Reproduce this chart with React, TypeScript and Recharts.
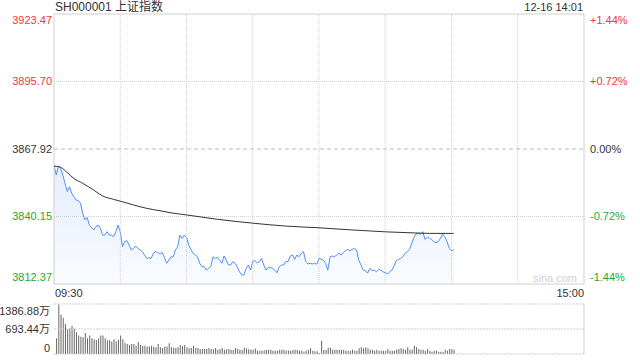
import React from 'react';
import { ComposedChart, BarChart, Bar, Area, Line, XAxis, YAxis, ReferenceLine, ReferenceArea } from 'recharts';

const FONT = '"Liberation Sans", Arial, "Noto Sans CJK SC", sans-serif';
const RED = '#f2373c';
const GREEN = '#1fa82d';
const GRID = '#cfcfcf';

const PREV_CLOSE = 3867.92;
const PRICE_TICKS = [3812.37, 3840.15, 3867.92, 3895.7, 3923.47];
const PCT_TICKS = [-1.44, -0.72, 0, 0.72, 1.44];
const VOL_TICKS = [0, 693.44, 1386.88];
const GRID_MINUTES = [30, 60, 90, 120, 150, 180, 210];
const TIME_TICKS = [0, 240];
const TIME_LABELS = ['09:30', '15:00'];

// minutes since 09:30 (lunch break removed)
const priceMinutes = [
  0, 1, 2, 3, 4, 6, 7, 8, 9, 10, 11, 12, 13, 14, 15, 16, 18, 19, 20, 21, 22, 23, 24, 25, 26, 27, 28, 29, 30,
  31, 32, 33, 34, 35, 36, 37, 38, 39, 40, 42, 43, 44, 45, 46, 47, 48, 49, 50, 51, 52, 53, 54, 55, 56, 57, 58,
  59, 60, 61, 63, 64, 65, 66, 67, 68, 69, 70, 71, 72, 73, 74, 75, 76, 77, 78, 79, 80, 81, 82, 83, 84, 85, 86,
  87, 88, 89, 90, 91, 92, 93, 94, 95, 96, 97, 98, 99, 100, 101, 102, 103, 104, 105, 106, 107, 108, 109, 110,
  111, 112, 113, 114, 115, 116, 117, 118, 119, 120, 122, 123, 124, 125, 126, 127, 128, 129, 130, 131, 132,
  133, 134, 135, 136, 137, 138, 139, 140, 141, 142, 143, 144, 145, 146, 147, 148, 149, 150, 151, 152, 153,
  154, 155, 156, 157, 158, 159, 160, 161, 162, 163, 164, 165, 166, 167, 168, 169, 170, 171, 172, 173, 174,
  175, 176, 177, 178, 179, 180, 181,
];
const priceValues = [
  3861.3, 3857.2, 3860.9, 3860.0, 3857.2, 3850.4, 3852.4, 3849.7, 3848.3, 3846.9, 3846.7, 3845.6, 3841.5,
  3838.7, 3839.8, 3836.6, 3834.6, 3836.0, 3836.6, 3835.3, 3832.5, 3832.5, 3833.9, 3832.5, 3832.5, 3831.8,
  3833.9, 3836.6, 3833.9, 3827.7, 3829.8, 3830.2, 3828.4, 3826.4, 3827.0, 3828.0, 3827.0, 3826.4, 3825.7,
  3822.9, 3823.2, 3822.9, 3825.0, 3825.7, 3825.3, 3824.7, 3825.3, 3823.3, 3820.9, 3822.2, 3823.6, 3823.6,
  3826.4, 3827.7, 3832.5, 3831.2, 3832.5, 3831.6, 3828.4, 3825.0, 3824.3, 3823.6, 3820.9, 3819.5, 3819.5,
  3818.1, 3818.8, 3819.5, 3823.6, 3822.9, 3823.3, 3822.2, 3820.9, 3823.9, 3822.2, 3820.2, 3820.2, 3821.6,
  3820.9, 3819.5, 3817.4, 3816.1, 3816.1, 3818.8, 3820.2, 3818.1, 3821.6, 3822.0, 3821.1, 3821.6, 3822.9,
  3820.2, 3818.1, 3819.2, 3819.2, 3818.8, 3818.1, 3817.0, 3819.5, 3820.2, 3820.2, 3821.6, 3821.6, 3823.9,
  3824.3, 3822.5, 3824.3, 3823.6, 3825.0, 3825.7, 3821.6, 3820.6, 3820.9, 3820.6, 3820.9, 3820.5, 3822.9,
  3822.2, 3820.9, 3818.1, 3823.6, 3823.9, 3823.6, 3824.3, 3825.0, 3824.3, 3825.3, 3826.1, 3826.6, 3826.1,
  3826.6, 3827.0, 3826.4, 3822.2, 3820.2, 3818.1, 3817.9, 3816.8, 3818.8, 3817.9, 3818.1, 3817.4, 3818.4,
  3818.1, 3817.4, 3817.0, 3816.5, 3817.4, 3818.1, 3819.8, 3822.0, 3822.5, 3822.9, 3823.6, 3825.0, 3825.7,
  3826.6, 3829.1, 3831.6, 3833.0, 3833.2, 3832.8, 3833.9, 3830.7, 3831.6, 3831.2, 3830.7, 3829.8, 3829.4,
  3829.8, 3831.2, 3833.0, 3831.8, 3829.8, 3827.0, 3826.1, 3826.4,
];

const avgMinutes = [0, 3, 6, 9, 13, 18, 22, 27, 31, 36, 42, 48, 54, 60, 74, 90, 105, 120, 135, 151, 163, 170, 181];
const avgValues = [
  3860.9, 3860.4, 3858.2, 3855.8, 3853.8, 3851.0, 3848.6, 3847.2, 3846.2, 3844.9, 3843.5, 3842.5, 3841.5,
  3840.8, 3839.0, 3837.4, 3836.2, 3835.5, 3834.6, 3833.8, 3833.4, 3833.2, 3833.2,
];

// volume per minute (万), from 09:31
const volumes = [
  435, 1380, 1090, 1005, 830, 693, 720, 785, 700, 600, 510, 480, 465, 580, 435, 510, 435, 410, 390, 435,
  510, 510, 435, 380, 380, 350, 410, 350, 395, 510, 410, 315, 280, 250, 280, 275, 230, 330, 250, 220,
  230, 210, 210, 230, 200, 185, 280, 185, 165, 210, 210, 295, 185, 175, 165, 185, 250, 220, 250, 185,
  165, 165, 230, 165, 165, 140, 140, 140, 140, 165, 140, 130, 165, 120, 140, 165, 120, 130, 140, 120,
  110, 165, 140, 120, 110, 175, 150, 130, 115, 120, 150,
  92, 92, 92, 102, 120, 120, 120, 92, 92, 92, 120, 120, 120, 92, 92, 92, 111, 120, 111, 92,
  92, 65, 92, 111, 157, 92, 74, 74, 28, 370, 111, 111, 176, 176, 120, 120, 120, 111, 120, 120,
  92, 92, 92, 120, 92, 92, 157, 185, 157, 185, 157, 120, 120, 92, 120, 92, 92, 92, 92, 139,
  92, 92, 92, 120, 139, 157, 139, 120, 185, 120, 120, 231, 185, 139, 120, 120, 92, 139, 92, 65,
  92, 92, 65, 65, 65, 120, 92, 139, 139, 120,
];

const priceRows = priceMinutes.map((m, i) => ({ m, v: priceValues[i] }));
const avgRows = avgMinutes.map((m, i) => ({ m, a: avgValues[i] }));
const volRows = volumes.map((v, i) => ({ m: i + 1, v }));

const PRICE_MIN = PRICE_TICKS[0];
const PRICE_MAX = PRICE_TICKS[PRICE_TICKS.length - 1];

const edgeShift = (v: number, lo: number, hi: number) => (v === hi ? 6 : v === lo ? -7 : 0);

const PriceTick = (props: any) => {
  const { x, y, payload } = props;
  const v = payload.value;
  const color = v > PREV_CLOSE + 0.001 ? RED : v < PREV_CLOSE - 0.001 ? GREEN : '#333';
  return (
    <text x={x} y={y + edgeShift(v, PRICE_MIN, PRICE_MAX)} dy="0.35em" textAnchor="end" fill={color} fontSize={11} fontFamily={FONT}>
      {v.toFixed(2)}
    </text>
  );
};

const PctTick = (props: any) => {
  const { x, y, payload } = props;
  const v = payload.value;
  const color = v > 0 ? RED : v < 0 ? GREEN : '#333';
  const label = (v > 0 ? '+' : '') + v.toFixed(2) + '%';
  return (
    <text x={x} y={y + edgeShift(v, -1.44, 1.44)} dy="0.35em" textAnchor="start" fill={color} fontSize={11} fontFamily={FONT}>
      {label}
    </text>
  );
};

const TimeTick = (props: any) => {
  const { x, y, payload, index } = props;
  return (
    <text x={index === 0 ? x + 1 : x} y={y + 9} dy="0.35em" textAnchor={index === 0 ? 'start' : 'end'} fill="#333" fontSize={11} fontFamily={FONT}>
      {TIME_LABELS[TIME_TICKS.indexOf(payload.value)]}
    </text>
  );
};

const VolTick = (props: any) => {
  const { x, y, payload } = props;
  const v = payload.value;
  const shift = v === VOL_TICKS[2] ? 7 : v === 0 ? -6 : 0;
  return (
    <text x={x} y={y + shift} dy="0.35em" textAnchor="end" fill="#333" fontSize={11} fontFamily={FONT}>
      {v === 0 ? '0' : v.toFixed(2) + '万'}
    </text>
  );
};

export default function App() {
  return (
    <div style={{ position: 'absolute', left: 0, top: 0, width: 640, height: 360, background: '#fff', fontFamily: FONT }}>
      <div style={{ position: 'absolute', left: 55, top: 0, fontSize: 12, color: '#333', lineHeight: '14px' }}>SH000001 上证指数</div>
      <div style={{ position: 'absolute', right: 57, top: 0, fontSize: 11, color: '#333', lineHeight: '14px' }}>12-16 14:01</div>

      <div style={{ position: 'absolute', left: 0, top: 0 }}>
        <ComposedChart width={640} height={304} margin={{ top: 14, right: 0, bottom: 0, left: 0 }}>
          <defs>
            <linearGradient id="priceFill" x1="0" y1="0" x2="0" y2="1">
              <stop offset="0%" stopColor="#4a8cf0" stopOpacity={0.15} />
              <stop offset="100%" stopColor="#4a8cf0" stopOpacity={0.03} />
            </linearGradient>
          </defs>
          <XAxis
            type="number"
            dataKey="m"
            domain={[0, 240]}
            ticks={TIME_TICKS}
            interval={0}
            height={20}
            axisLine={false}
            tickLine={false}
            tickSize={0}
            tickMargin={0}
            tick={<TimeTick />}
            allowDataOverflow
          />
          <YAxis
            yAxisId="p"
            type="number"
            domain={[PRICE_MIN, PRICE_MAX]}
            ticks={PRICE_TICKS}
            interval={0}
            width={54}
            axisLine={false}
            tickLine={false}
            tickSize={0}
            tickMargin={2}
            tick={<PriceTick />}
            allowDataOverflow
          />
          <YAxis
            yAxisId="pct"
            orientation="right"
            type="number"
            domain={[-1.44, 1.44]}
            ticks={PCT_TICKS}
            interval={0}
            width={56}
            axisLine={false}
            tickLine={false}
            tickSize={0}
            tickMargin={6}
            tick={<PctTick />}
            allowDataOverflow
          />
          {GRID_MINUTES.map((m) => (
            <ReferenceLine key={'v' + m} yAxisId="p" x={m} stroke={GRID} strokeDasharray="1 1" />
          ))}
          {PRICE_TICKS.slice(1, -1)
            .filter((t) => t !== PREV_CLOSE)
            .map((t) => (
              <ReferenceLine key={'h' + t} yAxisId="p" y={t} stroke={GRID} strokeDasharray="1 1" />
            ))}
          <ReferenceLine yAxisId="p" y={PREV_CLOSE} stroke="#bbb" strokeDasharray="4 3" />
          <Area
            yAxisId="p"
            data={priceRows}
            dataKey="v"
            type="linear"
            stroke="#5290ef"
            strokeWidth={1}
            fill="url(#priceFill)"
            fillOpacity={1}
            dot={false}
            activeDot={false}
            isAnimationActive={false}
          />
          <Line
            yAxisId="p"
            data={avgRows}
            dataKey="a"
            type="monotone"
            stroke="#333"
            strokeWidth={1}
            dot={false}
            activeDot={false}
            isAnimationActive={false}
          />
          <ReferenceArea yAxisId="p" x1={0} x2={240} y1={PRICE_MIN} y2={PRICE_MAX} fill="none" stroke={GRID} strokeWidth={1} />
        </ComposedChart>
      </div>

      <div style={{ position: 'absolute', left: 533, top: 272, fontSize: 11, color: '#d0d0d0' }}>sina.com</div>

      <div style={{ position: 'absolute', left: 0, top: 298 }}>
        <BarChart width={640} height={58} data={volRows} margin={{ top: 6, right: 56, bottom: 2, left: 0 }}>
          <XAxis type="number" dataKey="m" domain={[0, 240]} hide allowDataOverflow />
          <YAxis
            type="number"
            domain={[0, VOL_TICKS[2]]}
            ticks={VOL_TICKS}
            interval={0}
            width={54}
            axisLine={false}
            tickLine={false}
            tickSize={0}
            tickMargin={4}
            tick={<VolTick />}
            allowDataOverflow
          />
          {VOL_TICKS.map((t) => (
            <ReferenceLine key={'vh' + t} y={t} stroke={GRID} strokeDasharray="2 1" />
          ))}
          <ReferenceLine x={240} stroke={GRID} />
          <Bar dataKey="v" fill="#666" barSize={1} isAnimationActive={false} />
        </BarChart>
      </div>
    </div>
  );
}
